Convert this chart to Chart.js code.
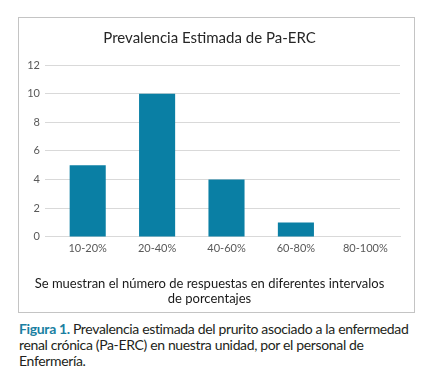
<!DOCTYPE html>
<html>
<head>
<meta charset="utf-8">
<script src="https://cdn.jsdelivr.net/npm/chart.js@4"></script>
<style>
  body { margin: 0; background: #fff; width: 441px; height: 380px; position: relative; }
  #box { position: absolute; left: 18px; top: 17px; width: 395px; height: 294px; border: 1px solid #c4c4c4; }
  #caption { position: absolute; left: 19px; top: 321px; width: 400px; font-family: Lato, sans-serif; font-size: 14px; line-height: 16px; letter-spacing: -0.35px; color: #231f20; }
  #caption b { color: #1a7fa2; font-weight: 700; }
</style>
</head>
<body>
<div id="box"><canvas id="myChart" width="395" height="294"></canvas></div>
<div id="caption"><b>Figura 1.</b> Prevalencia estimada del prurito asociado a la enfermedad renal crónica (Pa-ERC) en nuestra unidad, por el personal de Enfermería.</div>
<script>
const labels = ["10-20%", "20-40%", "40-60%", "60-80%", "80-100%"];
const respuestas = [5, 10, 4, 1, 0];
const yTicks = [0, 2, 4, 6, 8, 10, 12];

const FONT = "Lato, sans-serif";
const ctx = document.getElementById("myChart");

const myChart = new Chart(ctx, {
  type: "bar",
  data: {
    labels: labels,
    datasets: [{
      label: "Respuestas",
      data: respuestas,
      backgroundColor: "#0a7fa4",
      barPercentage: 0.52,
      categoryPercentage: 1,
    }],
  },
  options: {
    responsive: false,
    animation: false,
    layout: { padding: { left: 0, right: 14, top: 0, bottom: 6 } },
    plugins: {
      legend: { display: false },
      tooltip: { enabled: false },
      title: {
        display: true,
        text: "Prevalencia Estimada de Pa-ERC",
        color: "#262626",
        font: { family: FONT, size: 15, weight: "normal" },
        padding: { top: 11, bottom: 18 },
      },
      subtitle: {
        display: true,
        position: "bottom",
        text: ["Se muestran el número de respuestas en diferentes intervalos", "de porcentajes"],
        color: "#1a1a1a",
        font: { family: FONT, size: 13, weight: "normal", lineHeight: 1.15 },
        padding: { top: 16, bottom: 0 },
      },
    },
    scales: {
      x: {
        grid: { display: false, drawTicks: false },
        border: { display: true, color: "#d9d9d9" },
        ticks: { color: "#595959", font: { family: FONT, size: 11 }, padding: 5 },
      },
      y: {
        min: 0,
        max: 12,
        afterBuildTicks: (axis) => { axis.ticks = yTicks.map((v) => ({ value: v })); },
        afterFit: (axis) => { axis.width = 34; },
        grid: { color: "#d9d9d9", drawTicks: true, tickLength: 8 },
        border: { display: false },
        ticks: { color: "#595959", font: { family: FONT, size: 11 }, padding: 5 },
      },
    },
  },
});
</script>
</body>
</html>
